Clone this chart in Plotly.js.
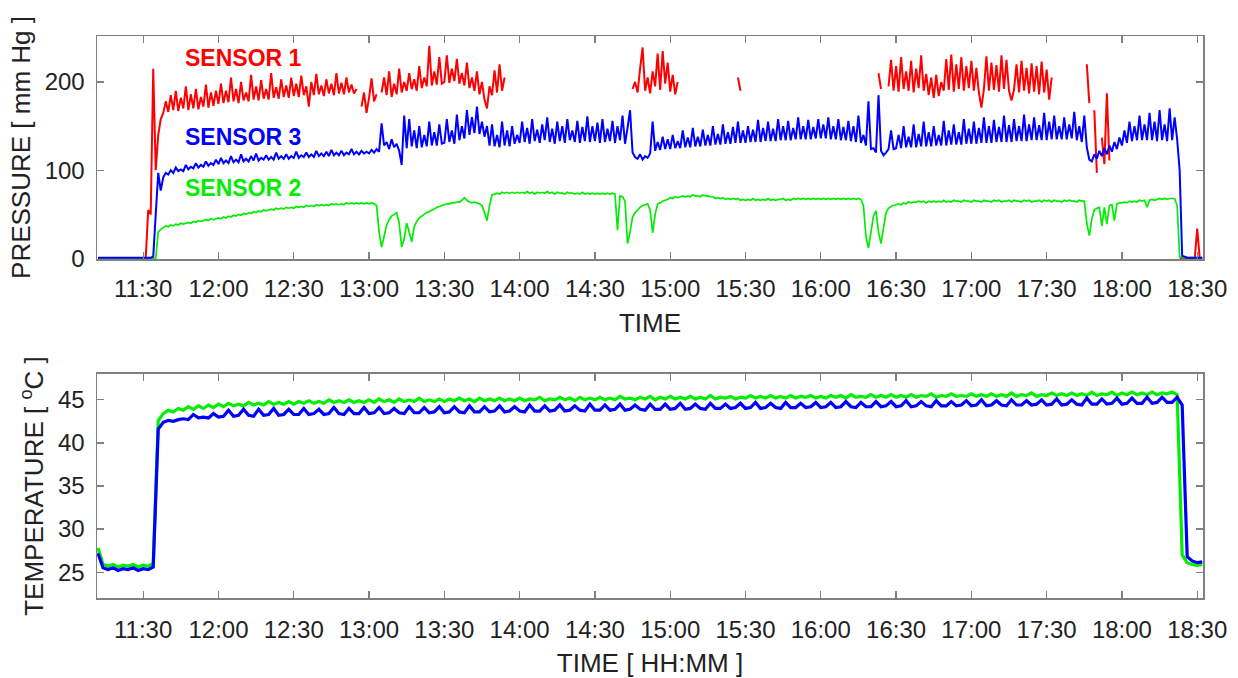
<!DOCTYPE html>
<html><head><meta charset="utf-8">
<script src="https://cdn.plot.ly/plotly-3.0.1.min.js"></script>
<style>html,body{margin:0;padding:0;background:#fff}#chart{width:1238px;height:678px}</style>
</head><body><div id="chart"></div>
<script>
// ---------- DATA ----------
// Tick labels (HH:MM)
const tickLabels = ['11:30','12:00','12:30','13:00','13:30','14:00','14:30','15:00','15:30','16:00','16:30','17:00','17:30','18:00','18:30'];

// Pressure samples: one per minute, first sample at 11:12
const pressureStart = '11:12';
const sensor1Pressure = [
  null,null,null,null,null,null,null,null,null,null,null,null,null,null,null,null,null,null,
  null,0,55,50,215,100,140,158,165,178,166,185,168,190,167,182,170,195,168,186,170,192,169,183,172,197,171,188,173,190,
  175,198,176,190,177,205,178,192,176,200,179,188,178,208,180,195,179,202,181,192,180,210,182,194,181,203,183,196,182,205,
  184,198,183,207,185,195,172,200,185,209,186,196,184,203,187,198,185,210,187,199,186,205,188,197,187,192,null,172,188,165,
  182,204,178,186,null,188,205,185,212,183,198,186,215,188,200,190,210,192,203,190,218,193,205,195,241,196,212,197,228,198,
  200,230,199,215,201,226,198,210,196,222,193,205,190,212,186,200,180,170,195,185,213,188,220,190,205,null,null,null,null,null,
  null,null,null,null,null,null,null,null,null,null,null,null,null,null,null,null,null,null,null,null,null,null,null,null,null,null,null,null,null,null,
  null,null,null,null,null,null,null,null,null,null,null,null,null,null,null,192,200,188,215,239,190,205,187,212,195,232,191,235,198,222,
  189,208,186,200,null,null,null,null,null,null,null,null,null,null,null,null,null,null,null,null,null,null,null,null,null,null,null,205,190,null,
  null,null,null,null,null,null,null,null,null,null,null,null,null,null,null,null,null,null,null,null,null,null,null,null,null,null,null,null,null,null,
  null,null,null,null,null,null,null,null,null,null,null,null,null,null,null,null,null,null,null,null,null,null,null,210,192,null,null,195,225,190,
  218,189,228,192,212,190,224,188,215,193,230,190,209,185,205,182,208,184,200,190,226,191,231,189,220,192,228,190,218,193,
  224,190,216,188,171,192,229,190,222,191,219,189,230,192,225,190,179,191,220,188,224,190,216,187,221,189,218,186,223,188,
  214,180,205,null,null,null,null,null,null,null,null,null,null,null,null,null,220,176,null,168,97,null,137,107,187,111,null,null,null,null,
  null,null,null,null,null,null,null,null,null,null,null,null,null,null,null,null,null,null,null,null,null,null,null,0,0,0,0,0,0,0,
  34,0,0
];
const sensor3Pressure = [
  1,1,1,1,1,1,1,1,1,1,1,1,1,1,1,1,1,1,
  1,1,1,1,2,50,97,77,92,97,95,100,97,103,99,101,99,106,101,104,102,108,103,106,104,110,105,108,106,112,
  107,114,108,111,108,116,109,112,109,118,110,113,110,116,111,119,111,114,112,117,112,115,112,120,113,116,113,118,113,116,
  114,121,114,117,115,120,115,118,115,122,116,119,116,121,116,123,117,120,117,122,117,120,118,124,118,121,118,122,119,121,
  119,123,120,124,121,153,128,132,124,135,126,130,122,106,162,125,158,127,145,125,150,126,140,127,155,128,143,128,152,130,
  131,158,132,145,130,163,134,150,136,168,140,160,142,172,141,155,138,150,128,152,127,140,126,155,128,145,127,150,130,140,
  131,155,132,148,130,158,133,146,131,152,134,160,132,147,130,155,133,150,131,158,134,145,132,156,131,149,133,161,132,150,
  133,154,131,158,132,147,133,156,131,150,134,162,130,148,168,120,115,113,118,112,116,114,119,155,122,132,123,138,124,135,
  124,140,125,133,125,145,126,137,126,148,127,138,127,146,128,140,128,150,129,141,129,152,130,143,130,149,131,155,131,145,
  131,150,132,146,132,157,132,148,133,155,133,147,133,158,134,150,134,156,134,148,135,160,135,150,135,157,135,149,136,158,
  136,152,136,160,135,150,135,158,134,149,134,156,133,150,132,162,131,140,128,178,124,125,120,185,122,117,120,124,145,124,
  125,140,125,150,126,138,126,152,126,141,127,155,127,143,127,150,128,140,128,156,128,145,129,152,129,143,129,158,130,147,
  130,155,130,148,131,160,131,150,131,157,132,149,132,162,132,151,132,158,133,150,133,163,133,152,134,160,134,151,134,165,
  134,155,135,162,135,150,135,160,135,152,136,166,134,150,132,162,126,112,110,118,113,122,116,125,118,128,121,132,124,137,
  128,145,131,155,133,150,134,162,134,152,134,165,134,155,133,168,134,152,133,170,134,160,135,100,3,2,1,1,1,1,
  1,1,1
];
const sensor2Pressure = [
  0,0,0,0,0,0,0,0,0,0,0,0,0,0,0,0,0,0,
  0,0,0,0,0,0,30,33,35,37,36,38,37,39,38,40,39,40,41,40,42,41,43,42,43,44,43,45,44,45,
  46,45,47,46,48,47,49,48,50,49,51,50,52,51,53,52,54,53,55,54,55,56,55,57,56,57,56,58,57,58,
  57,59,58,59,58,60,59,60,59,61,60,61,60,61,60,62,61,62,61,62,61,63,62,63,62,63,62,63,62,63,
  62,63,62,60,30,13,25,38,44,48,50,52,40,13,22,40,30,19,36,42,46,48,50,52,53,55,56,58,59,60,
  61,62,62,63,63,64,64,66,69,66,64,63,64,63,62,60,52,43,60,72,73,74,73,75,74,75,74,75,74,75,
  74,75,74,76,74,75,73,75,74,75,74,76,74,75,73,75,74,74,73,75,74,74,73,74,73,75,73,74,73,74,
  73,74,73,74,73,74,73,74,73,32,71,70,65,17,30,47,52,55,58,60,61,62,55,29,50,62,63,65,66,67,
  69,68,70,69,70,71,70,71,70,72,71,71,70,72,71,71,70,70,68,69,68,69,67,68,67,68,67,68,66,67,
  66,67,66,68,66,67,66,67,66,68,66,67,66,67,67,68,66,67,66,68,67,68,67,68,67,68,67,68,67,68,
  67,68,67,68,67,68,67,68,67,68,67,68,67,68,67,68,67,60,25,12,30,48,54,30,17,35,52,57,59,60,
  61,62,61,63,62,64,63,64,64,65,64,65,63,65,64,65,64,65,64,66,64,65,64,66,65,65,64,66,65,65,
  64,66,65,65,64,66,65,65,64,66,65,66,64,65,65,66,64,66,65,65,64,66,65,66,64,65,65,66,64,66,
  65,66,64,66,65,65,64,66,65,66,65,65,64,66,65,65,40,26,45,55,57,58,37,58,39,60,61,43,62,63,
  63,64,63,65,64,65,64,66,65,66,58,66,67,66,67,68,67,68,67,68,68,68,60,2,1,1,1,1,1,1,
  1,1,1
];

// Temperature samples: one every two minutes, first sample at 11:12
const temperatureStart = '11:12';
const sensor2Temperature = [
  27.8,25.9,25.7,25.9,25.6,25.8,25.7,25.9,25.6,
  25.8,25.7,26.0,42.6,43.4,43.8,43.6,44.0,43.8,44.2,43.9,44.3,44.0,44.4,44.1,
  44.5,44.2,44.6,44.3,44.5,44.3,44.7,44.4,44.6,44.4,44.8,44.5,44.7,44.5,44.8,
  44.5,44.8,44.6,44.9,44.6,44.8,44.6,45.0,44.7,44.9,44.7,45.0,44.7,44.9,44.7,
  45.0,44.7,45.1,44.8,45.0,44.7,45.1,44.8,45.0,44.8,45.2,44.8,45.0,44.8,45.1,
  44.8,45.1,44.9,45.2,44.9,45.1,44.8,45.2,44.9,45.1,44.9,45.2,44.9,45.1,44.9,
  45.2,44.9,45.1,45.0,45.3,44.9,45.1,45.0,45.3,45.0,45.2,44.9,45.3,45.0,45.2,
  45.0,45.3,45.0,45.2,45.0,45.4,45.1,45.2,45.0,45.3,45.1,45.4,45.0,45.3,45.1,
  45.4,45.1,45.3,45.1,45.4,45.1,45.3,45.1,45.5,45.1,45.3,45.2,45.4,45.1,45.3,
  45.2,45.5,45.2,45.4,45.2,45.5,45.2,45.4,45.2,45.5,45.2,45.4,45.3,45.5,45.2,
  45.4,45.2,45.5,45.3,45.5,45.2,45.6,45.3,45.4,45.3,45.6,45.3,45.5,45.3,45.6,
  45.3,45.5,45.3,45.6,45.3,45.5,45.4,45.7,45.3,45.5,45.4,45.7,45.4,45.5,45.4,
  45.7,45.4,45.6,45.4,45.7,45.4,45.6,45.4,45.8,45.4,45.6,45.5,45.8,45.4,45.6,
  45.5,45.8,45.5,45.7,45.5,45.8,45.5,45.7,45.5,45.9,45.5,45.7,45.6,45.9,45.5,
  45.8,45.6,45.9,45.6,45.8,45.6,45.9,45.6,45.8,45.7,45.9,45.6,27.0,26.1,25.9,
  25.8,25.9
];
const sensor3Temperature = [
  27.2,25.5,25.3,25.5,25.2,25.4,25.3,25.5,25.2,
  25.4,25.3,25.6,41.6,42.4,42.6,42.5,42.7,42.8,42.7,43.3,42.9,43.0,42.9,43.4,
  43.0,43.1,43.8,43.1,43.2,43.9,43.2,43.1,43.9,43.2,43.3,44.0,43.2,43.3,43.9,
  43.3,43.3,44.0,43.3,43.4,43.9,43.3,43.4,44.1,43.4,43.3,44.0,43.4,43.4,44.1,
  43.4,43.5,44.1,43.4,43.5,44.0,43.5,43.4,44.2,43.5,43.5,44.1,43.5,43.6,44.2,
  43.5,43.6,44.2,43.6,43.5,44.3,43.6,43.6,44.2,43.6,43.7,44.3,43.6,43.7,44.2,
  43.7,43.6,44.4,43.7,43.7,44.3,43.7,43.8,44.4,43.7,43.8,44.3,43.8,43.7,44.5,
  43.8,43.8,44.4,43.8,43.9,44.5,43.8,43.9,44.4,43.9,43.8,44.5,43.9,43.9,44.5,
  43.9,44.0,44.6,43.9,44.0,44.5,44.0,43.9,44.6,44.0,44.0,44.5,44.0,44.1,44.6,
  44.0,44.1,44.7,44.0,44.1,44.6,44.1,44.0,44.7,44.1,44.1,44.6,44.1,44.2,44.7,
  44.1,44.2,44.7,44.1,44.2,44.8,44.2,44.1,44.7,44.2,44.2,44.8,44.2,44.3,44.8,
  44.2,44.3,44.9,44.2,44.3,44.8,44.3,44.2,44.9,44.3,44.3,44.8,44.3,44.4,44.9,
  44.3,44.4,45.0,44.3,44.4,44.9,44.4,44.3,45.0,44.4,44.4,44.9,44.4,44.5,45.0,
  44.4,44.5,45.1,44.4,44.5,45.0,44.5,44.4,45.2,44.5,44.5,45.1,44.5,44.6,45.2,
  44.5,44.6,45.2,44.6,44.6,45.3,44.6,44.7,45.3,44.7,44.7,45.3,44.4,26.8,26.3,
  26.1,26.2
];

// ---------- BUILD ----------
const toMin = s => { const [h, m] = s.split(':').map(Number); return h * 60 + m; };
const timeGrid = (start, n, step) => Array.from({length: n}, (_, i) => toMin(start) + i * step);
const tP = timeGrid(pressureStart, sensor1Pressure.length, 1);
const tT = timeGrid(temperatureStart, sensor2Temperature.length, 2);
const tickVals = tickLabels.map(toMin);

const RED = '#ff0000', BLUE = '#0000ff', GREEN = '#00ee00';
const FONT = 'Liberation Sans, Arial, Helvetica, sans-serif';

const traces = [
  {x: tP, y: sensor1Pressure, xaxis: 'x', yaxis: 'y', type: 'scatter', mode: 'lines', name: 'SENSOR 1', line: {color: RED, width: 2, simplify: false}, connectgaps: false},
  {x: tP, y: sensor2Pressure, xaxis: 'x', yaxis: 'y', type: 'scatter', mode: 'lines', name: 'SENSOR 2', line: {color: GREEN, width: 1.7, simplify: false}},
  {x: tP, y: sensor3Pressure, xaxis: 'x', yaxis: 'y', type: 'scatter', mode: 'lines', name: 'SENSOR 3', line: {color: BLUE, width: 2, simplify: false}},
  {x: tT, y: sensor2Temperature, xaxis: 'x2', yaxis: 'y2', type: 'scatter', mode: 'lines', name: 'SENSOR 2', line: {color: GREEN, width: 3.2, simplify: false}},
  {x: tT, y: sensor3Temperature, xaxis: 'x2', yaxis: 'y2', type: 'scatter', mode: 'lines', name: 'SENSOR 3', line: {color: BLUE, width: 3.2, simplify: false}}
];

const frame = {
  showline: true, linecolor: '#808080', linewidth: 1.5, mirror: 'ticks',
  ticks: 'inside', ticklen: 7, tickwidth: 1.2, tickcolor: '#808080',
  showgrid: false, zeroline: false,
  tickfont: {family: FONT, size: 24, color: '#222'}
};
const titleFont = {family: FONT, size: 26, color: '#222'};
const xRange = [671.6, 1112.3];

const layout = {
  width: 1238, height: 678,
  margin: {l: 97, r: 35, t: 36, b: 80},
  paper_bgcolor: '#fff', plot_bgcolor: '#fff',
  showlegend: false,
  font: {family: FONT},
  xaxis: Object.assign({}, frame, {anchor: 'y', domain: [0, 1], range: xRange, tickvals: tickVals, ticktext: tickLabels,
    ticklabelstandoff: 8, title: {text: 'TIME', font: titleFont, standoff: 12}}),
  yaxis: Object.assign({}, frame, {anchor: 'x', domain: [0.6032, 1], range: [-0.5, 252], tickvals: [0, 100, 200],
    ticklabelstandoff: 6, title: {text: 'PRESSURE [ mm Hg ]', font: titleFont, standoff: 6}}),
  xaxis2: Object.assign({}, frame, {anchor: 'y2', domain: [0, 1], range: xRange, tickvals: tickVals, ticktext: tickLabels,
    ticklabelstandoff: 10, title: {text: 'TIME [ HH:MM ]', font: titleFont, standoff: 12}}),
  yaxis2: Object.assign({}, frame, {anchor: 'x2', domain: [0, 0.3986], range: [22, 48], tickvals: [25, 30, 35, 40, 45],
    ticklabelstandoff: 6, title: {text: 'TEMPERATURE [ <sup>o</sup>C ]', font: titleFont, standoff: 7}}),
  annotations: [
    {text: '<b>SENSOR 1</b>', x: 706, y: 227, xref: 'x', yref: 'y', xanchor: 'left', yanchor: 'middle', showarrow: false, font: {family: FONT, size: 23, color: RED}},
    {text: '<b>SENSOR 3</b>', x: 706, y: 138, xref: 'x', yref: 'y', xanchor: 'left', yanchor: 'middle', showarrow: false, font: {family: FONT, size: 23, color: BLUE}},
    {text: '<b>SENSOR 2</b>', x: 706, y: 79.5, xref: 'x', yref: 'y', xanchor: 'left', yanchor: 'middle', showarrow: false, font: {family: FONT, size: 23, color: GREEN}}
  ]
};

Plotly.newPlot('chart', traces, layout, {staticPlot: true, displayModeBar: false});
</script></body></html>
